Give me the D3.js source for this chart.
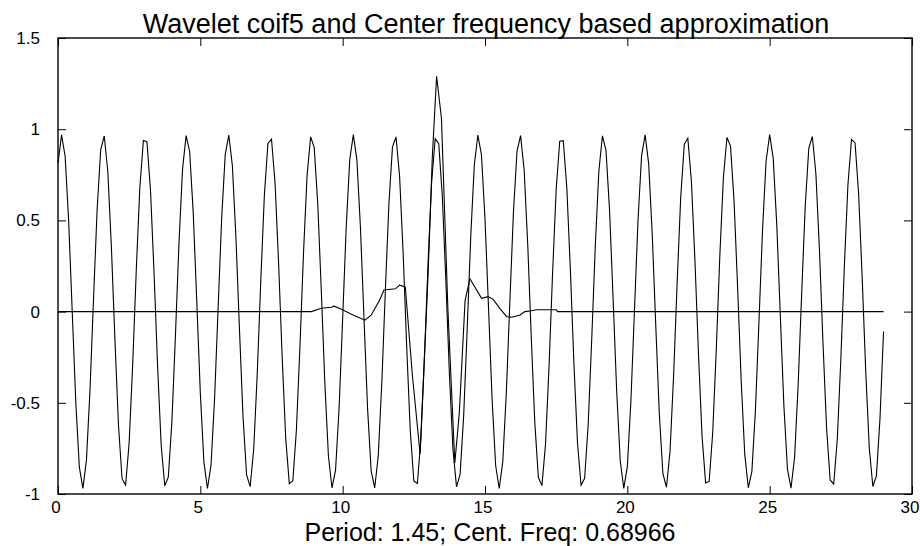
<!DOCTYPE html>
<html><head><meta charset="utf-8">
<script src="https://cdn.jsdelivr.net/npm/d3@7"></script>
<style>body{margin:0;background:#fff}svg{display:block}text{font-family:"Liberation Sans",Arial,sans-serif;fill:#000}</style>
</head><body><svg id="c" width="920" height="546"></svg>
<script>
const titleText = "Wavelet coif5 and Center frequency based approximation";
const xLabelText = "Period: 1.45; Cent. Freq: 0.68966";
const xTicks = [0, 5, 10, 15, 20, 25, 30];
const yTicks = [-1, -0.5, 0, 0.5, 1, 1.5];
const yTickLabels = ["-1", "-0.5", "0", "0.5", "1", "1.5"];
const approxStep = 0.125;
const approxValues = [
0.814,0.969,0.852,0.496,-0.001,-0.497,-0.853,-0.969,-0.813,-0.427,
0.078,0.561,0.887,0.963,0.768,0.357,-0.155,-0.623,-0.916,-0.951,
-0.718,-0.284,0.230,0.680,0.938,0.932,0.664,0.209,-0.305,-0.733,
-0.955,-0.908,-0.606,-0.133,0.377,0.781,0.965,0.878,0.544,0.056,
-0.447,-0.824,-0.970,-0.842,-0.478,0.021,0.514,0.862,0.968,0.801,
0.409,-0.098,-0.578,-0.895,-0.960,-0.755,-0.338,0.175,0.639,0.922,
0.946,0.705,0.264,-0.250,-0.695,-0.943,-0.927,-0.649,-0.189,0.324,
0.746,0.958,0.901,0.590,0.113,-0.396,-0.793,-0.967,-0.869,-0.527,
-0.036,0.465,0.835,0.970,0.832,0.460,-0.041,-0.531,-0.872,-0.967,
-0.790,-0.391,0.118,0.594,0.903,0.957,0.742,0.319,-0.195,-0.653,
-0.928,-0.942,-0.690,-0.245,0.270,0.708,0.948,0.920,0.634,0.169,
-0.343,-0.759,-0.961,-0.893,-0.573,-0.093,0.414,0.805,0.968,0.860,
0.509,0.016,-0.483,-0.845,-0.970,-0.821,-0.442,0.062,0.548,0.880,
0.965,0.778,0.372,-0.139,-0.610,-0.910,-0.954,-0.729,-0.300,0.215,
0.668,0.934,0.937,0.676,0.225,-0.289,-0.722,-0.952,-0.914,-0.619,
-0.149,0.362,0.771,0.964,0.885,0.557,0.072,-0.432,-0.816,-0.969,
-0.850,-0.492,0.005,0.500,0.855,0.969,0.810,0.424,-0.082,-0.565,
-0.889,-0.963,-0.765,-0.353,0.159,0.626,0.917,0.950,0.716,0.280,
-0.234,-0.683,-0.939,-0.931,-0.661,-0.205,0.309,0.735,0.955,0.907,
0.603,0.129,-0.381,-0.783,-0.966,-0.876,-0.540,-0.052,0.451,0.827,
0.970,0.840,0.474,-0.025,-0.518,-0.864,-0.968,-0.799,-0.405,0.102,
0.581,0.897,0.960,0.753,0.334,-0.179,-0.641,-0.923,-0.946,-0.702,
-0.261,0.254,0.697,0.944,0.925,0.646,0.185,-0.328,-0.749,-0.959,
-0.899,-0.587,-0.109];
const psiX = [0, 8.9, 9.25, 9.6, 9.7, 10.0, 10.25, 10.78, 11.0, 11.3, 11.45, 11.85, 12.0, 12.2, 12.45, 12.72, 13.0, 13.15, 13.3, 13.47, 13.7, 13.94, 14.1, 14.3, 14.47, 14.88, 15.11, 15.29, 15.52, 15.76, 15.94, 16.23, 16.4, 16.64, 16.8, 17.5, 17.55, 29.0];
const psiY = [0, 0, 0.018, 0.024, 0.03, 0.01, -0.01, -0.047, -0.02, 0.064, 0.118, 0.125, 0.145, 0.135, -0.35, -0.78, 0.2, 0.85, 1.29, 1.06, 0.0, -0.83, -0.55, 0.06, 0.18, 0.073, 0.082, 0.067, 0.018, -0.028, -0.031, -0.019, 0.0, 0.005, 0.01, 0.01, 0, 0];

const svg = d3.select("#c");
const m = {l:58, r:8, t:38, b:52};
const W = 920, H = 546;
const x = d3.scaleLinear().domain([0,30]).range([m.l, W-m.r]);
const y = d3.scaleLinear().domain([-1,1.5]).range([H-m.b, m.t]);
const tl = 8;

const line = d3.line().x(d=>x(d[0])).y(d=>y(d[1]));
const approx = approxValues.map((v,i)=>[i*approxStep, v]);
const psi = psiX.map((v,i)=>[v, psiY[i]]);

svg.append("path").attr("d", line(psi)).attr("fill","none").attr("stroke","#000").attr("stroke-width",1.1);
svg.append("path").attr("d", line(approx)).attr("fill","none").attr("stroke","#000").attr("stroke-width",1.1);

svg.append("rect").attr("x",x(0)).attr("y",y(1.5)).attr("width",x(30)-x(0)).attr("height",y(-1)-y(1.5))
  .attr("fill","none").attr("stroke","#000").attr("stroke-width",1.4);

const gb = svg.append("g").attr("transform",`translate(0,${y(-1)})`)
  .call(d3.axisBottom(x).tickValues(xTicks).tickSizeInner(-tl).tickSizeOuter(0).tickPadding(7).tickFormat(d3.format("d")));
const gt = svg.append("g").attr("transform",`translate(0,${y(1.5)})`)
  .call(d3.axisTop(x).tickValues(xTicks).tickSizeInner(-tl).tickSizeOuter(0).tickFormat(""));
const gl = svg.append("g").attr("transform",`translate(${x(0)},0)`)
  .call(d3.axisLeft(y).tickValues(yTicks).tickSizeInner(-tl).tickSizeOuter(0).tickPadding(tl+10).tickFormat((d,i)=>yTickLabels[i]));
const gr = svg.append("g").attr("transform",`translate(${x(30)},0)`)
  .call(d3.axisRight(y).tickValues(yTicks).tickSizeInner(-tl).tickSizeOuter(0).tickFormat(""));
[gb,gt,gl,gr].forEach(g=>{
  g.select(".domain").remove();
  g.selectAll("line").attr("stroke","#000").attr("stroke-width",1);
  g.selectAll("text").attr("font-size",17).attr("font-family","Liberation Sans, Arial, sans-serif").attr("fill","#000");
});
gb.selectAll("text").attr("dx",-2.5);

svg.append("text").attr("x",(x(0)+x(30))/2 + 1).attr("y",33).attr("text-anchor","middle")
  .attr("font-size",27).text(titleText);
svg.append("text").attr("x",(x(0)+x(30))/2 + 5).attr("y",540.6).attr("text-anchor","middle")
  .attr("font-size",25).text(xLabelText);
</script></body></html>
